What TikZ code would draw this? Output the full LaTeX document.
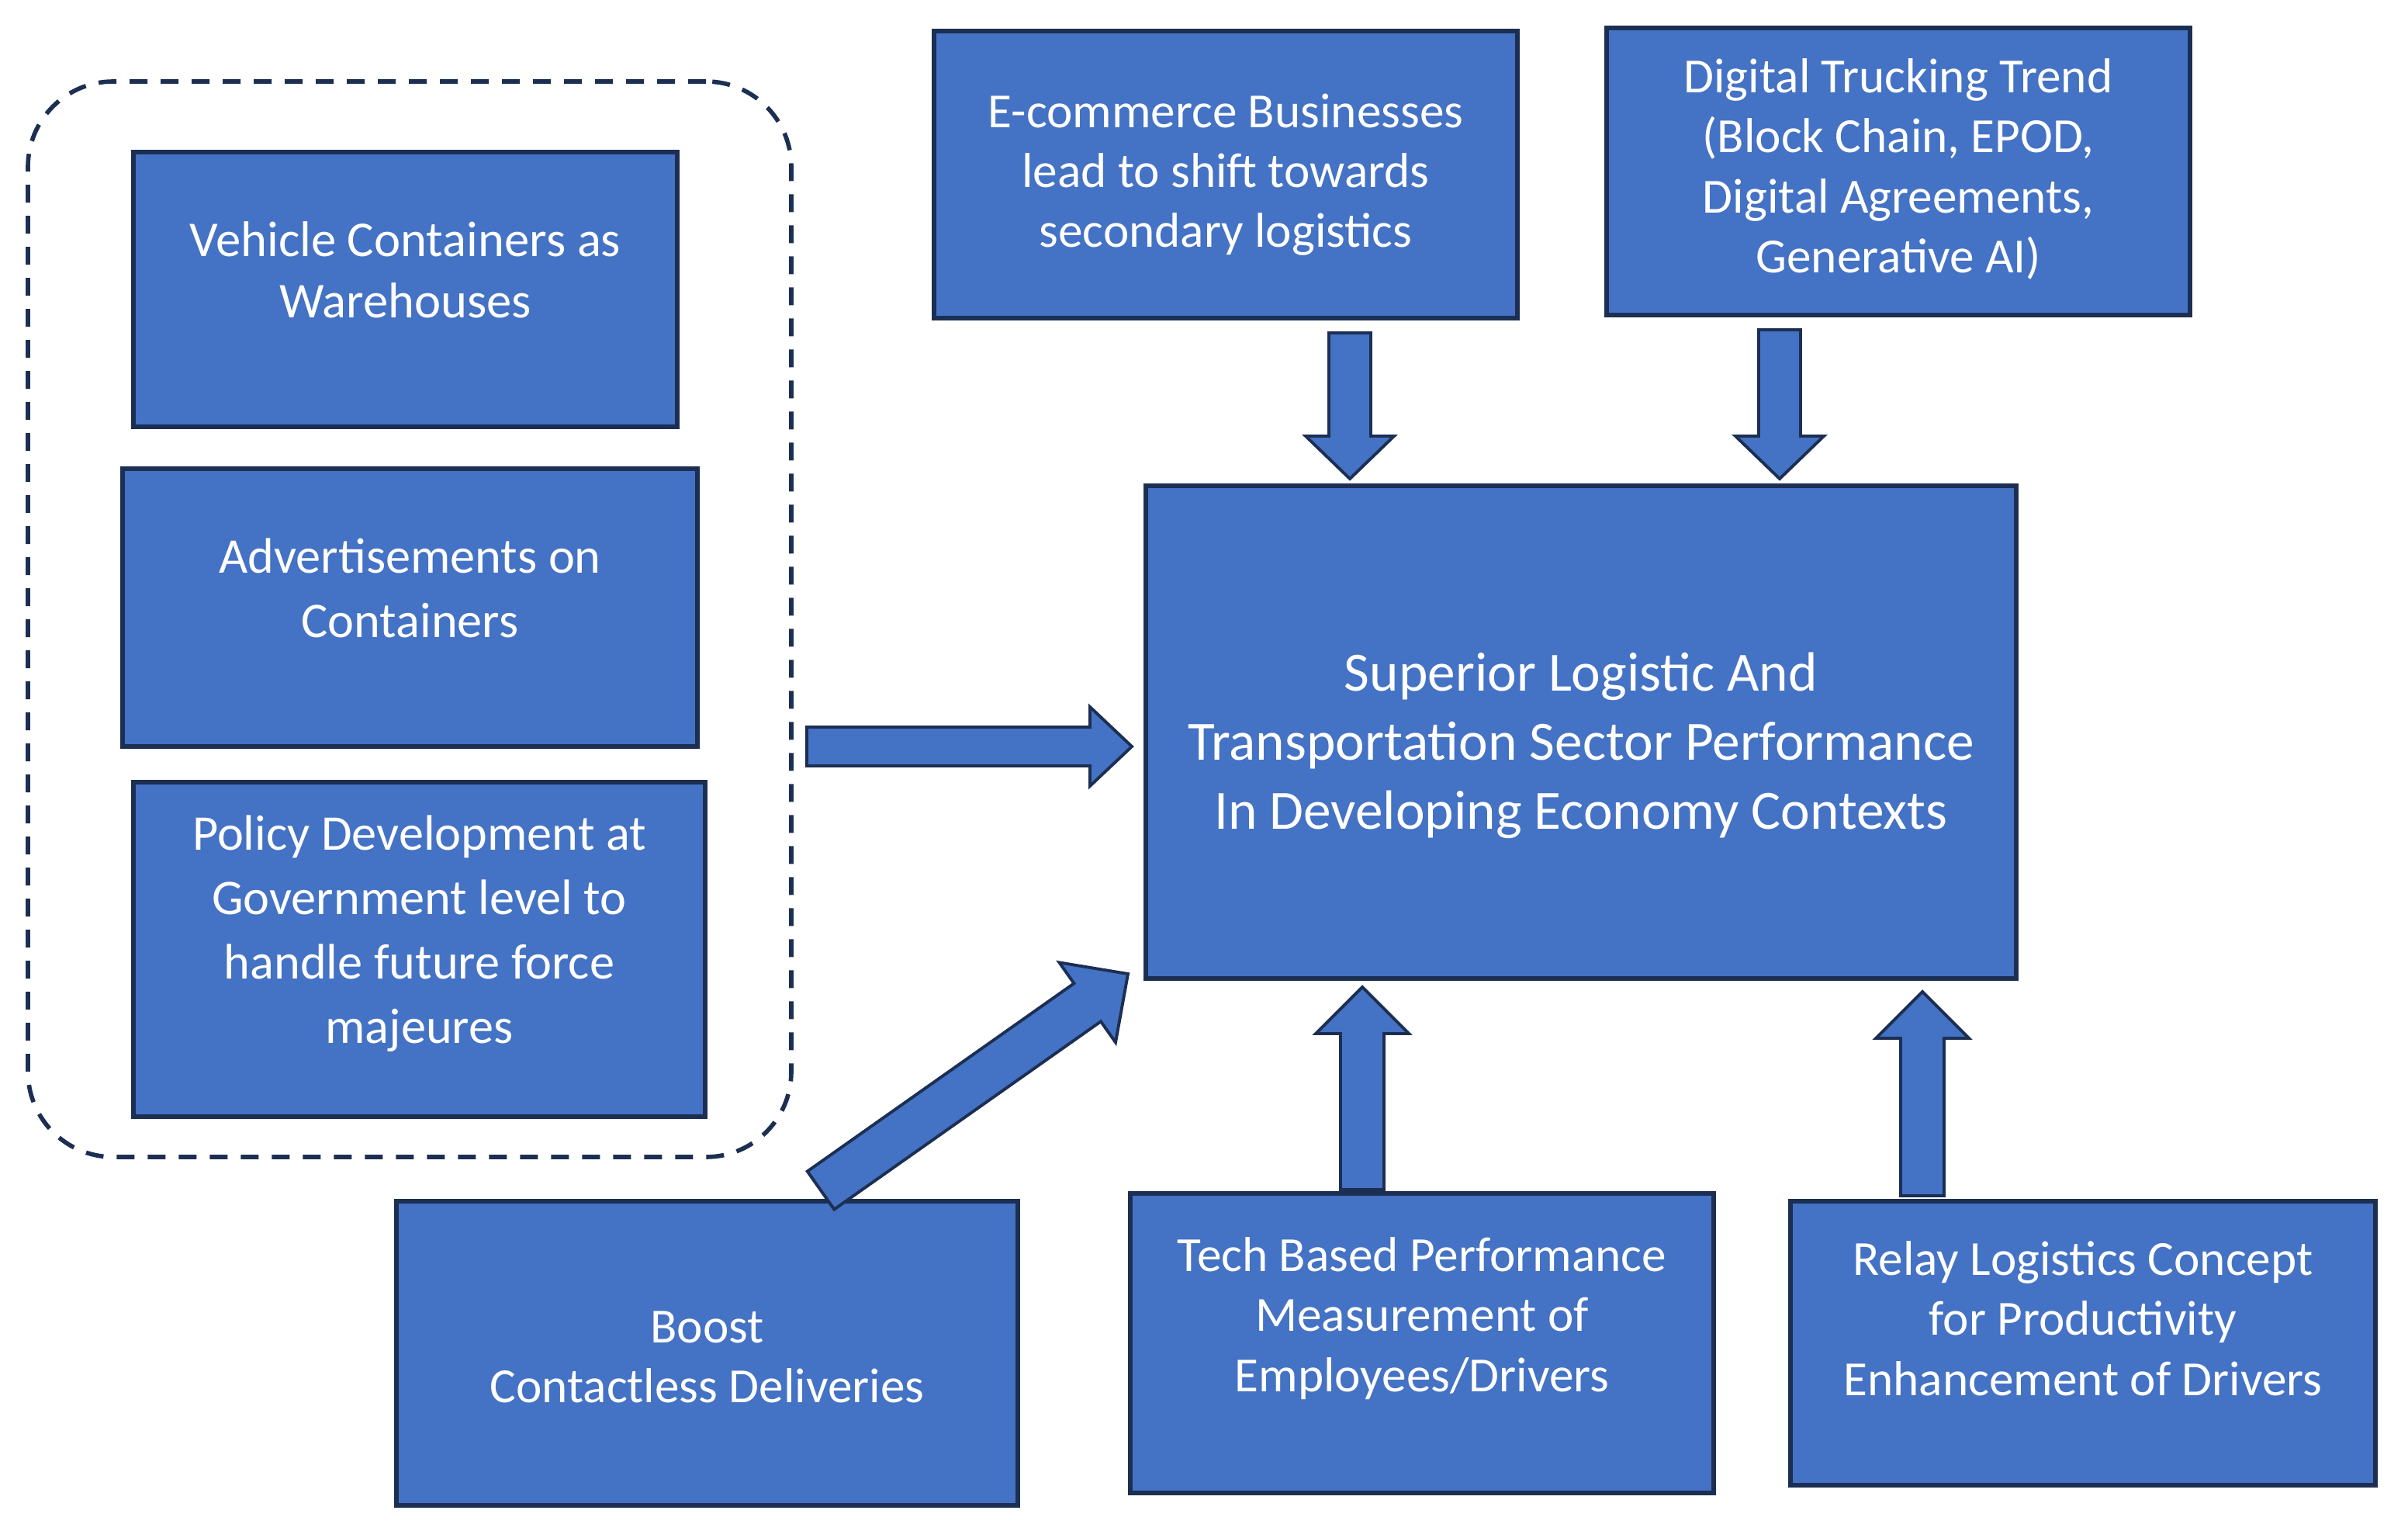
\documentclass[tikz,border=0pt]{standalone}
\usepackage{fontspec}
\setmainfont{Carlito}
\usetikzlibrary{calc}
\definecolor{boxblue}{HTML}{4472C4}
\definecolor{edgeblue}{HTML}{1C2F52}
\begin{document}
\begin{tikzpicture}[
  blk/.style={draw=edgeblue, fill=boxblue, line width=1.7pt, inner sep=0pt},
  grp/.style={draw=edgeblue, line width=1.6pt, dash pattern=on 0.23cm off 0.17cm, rounded corners=1.1cm, inner sep=0pt},
  txt/.style={text=white, align=center, inner sep=0pt},
  arr/.style={draw=edgeblue, fill=boxblue, line width=1.1pt, line join=miter}]
\useasboundingbox (0,0) rectangle (31.04,-19.72);
\def\bx#1#2#3#4{\node[blk, minimum width=#3cm, minimum height=#4cm] (#1) at (#2) {};}
\def\ar#1#2#3#4#5{
\coordinate (#1n) at ($(#2)!#5!(#1)$);
\filldraw[arr] ($(#1)!#3!90:(#2)$) -- ($(#1n)!#3!90:(#2)$) -- ($(#1n)!#4!90:(#2)$) -- (#2)
  -- ($(#1n)!#4!-90:(#2)$) -- ($(#1n)!#3!-90:(#2)$) -- ($(#1)!#3!-90:(#2)$) -- cycle;
}
\node[grp, minimum width=9.84cm, minimum height=13.86cm] (grp) at (5.28,-7.98) {};
\bx{veh}{5.225,-3.73}{7.01}{3.54}
\bx{adv}{5.285,-7.83}{7.41}{3.58}
\bx{pol}{5.405,-12.235}{7.37}{4.31}
\bx{ecom}{15.80,-2.25}{7.52}{3.70}
\bx{dig}{24.47,-2.21}{7.52}{3.70}
\bx{central}{20.38,-9.435}{11.22}{6.35}
\bx{boost}{9.115,-17.44}{8.01}{3.92}
\bx{tech}{18.33,-17.31}{7.52}{3.86}
\bx{relay}{26.85,-17.31}{7.54}{3.66}
\node[txt, font=\fontsize{18.4}{22.5}\selectfont] (vehtxt) at ([yshift=0.25cm]veh.center) {Vehicle Containers as\\Warehouses};
\node[txt, font=\fontsize{18.3}{23.6}\selectfont] (advtxt) at ([yshift=0.25cm]adv.center) {Advertisements on\\Containers};
\node[txt, font=\fontsize{18.3}{23.6}\selectfont] (poltxt) at ([yshift=0.2cm]pol.center) {Policy Development at\\Government level to\\handle future force\\majeures};
\node[txt, font=\fontsize{18}{22}\selectfont] (ecomtxt) at (ecom.center) {E-commerce Businesses\\lead to shift towards\\secondary logistics};
\node[txt, font=\fontsize{18}{22}\selectfont] (digtxt) at ([yshift=0.03cm]dig.center) {Digital Trucking Trend\\(Block Chain, EPOD,\\Digital Agreements,\\Generative AI)};
\node[txt, font=\fontsize{20.3}{25.3}\selectfont] (centraltxt) at ([yshift=-0.17cm]central.center) {Superior Logistic And\\Transportation Sector Performance\\In Developing Economy Contexts};
\node[txt, font=\fontsize{18}{22}\selectfont] (boosttxt) at ([yshift=-0.05cm]boost.center) {Boost\\Contactless Deliveries};
\node[txt, font=\fontsize{18}{22}\selectfont] (techtxt) at ([yshift=0.32cm]tech.center) {Tech Based Performance\\Measurement of\\Employees/Drivers};
\node[txt, font=\fontsize{18}{22}\selectfont] (relaytxt) at ([yshift=0.32cm]relay.center) {Relay Logistics Concept\\for Productivity\\Enhancement of Drivers};
\coordinate (d1a) at ($(ecom.south)+(1.60,-0.16)$);
\coordinate (d1b) at ($(central.north -| d1a)+(0,0.06)$);
\coordinate (d2a) at ($(dig.south)+(-1.53,-0.16)$);
\coordinate (d2b) at ($(central.north -| d2a)+(0,0.06)$);
\coordinate (r1a) at ($(grp.east)+(0.17,-1.64)$);
\coordinate (r1b) at ($(central.west |- r1a)+(-0.15,0)$);
\coordinate (g1a) at ($(boost.north)+(1.465,0.11)$);
\coordinate (g1b) at ($(central.south west)+(-0.20,0.09)$);
\coordinate (u1a) at ($(tech.north)+(-0.77,0.02)$);
\coordinate (u1b) at ($(central.south -| u1a)+(0,-0.08)$);
\coordinate (u2a) at ($(relay.north)+(-2.07,0.04)$);
\coordinate (u2b) at ($(central.south -| u2a)+(0,-0.14)$);
\ar{d1a}{d1b}{0.27cm}{0.57cm}{0.55cm}
\ar{d2a}{d2b}{0.27cm}{0.57cm}{0.55cm}
\ar{r1a}{r1b}{0.25cm}{0.51cm}{0.54cm}
\ar{g1a}{g1b}{0.30cm}{0.63cm}{0.64cm}
\ar{u1a}{u1b}{0.28cm}{0.60cm}{0.60cm}
\ar{u2a}{u2b}{0.28cm}{0.60cm}{0.60cm}
\end{tikzpicture}
\end{document}
